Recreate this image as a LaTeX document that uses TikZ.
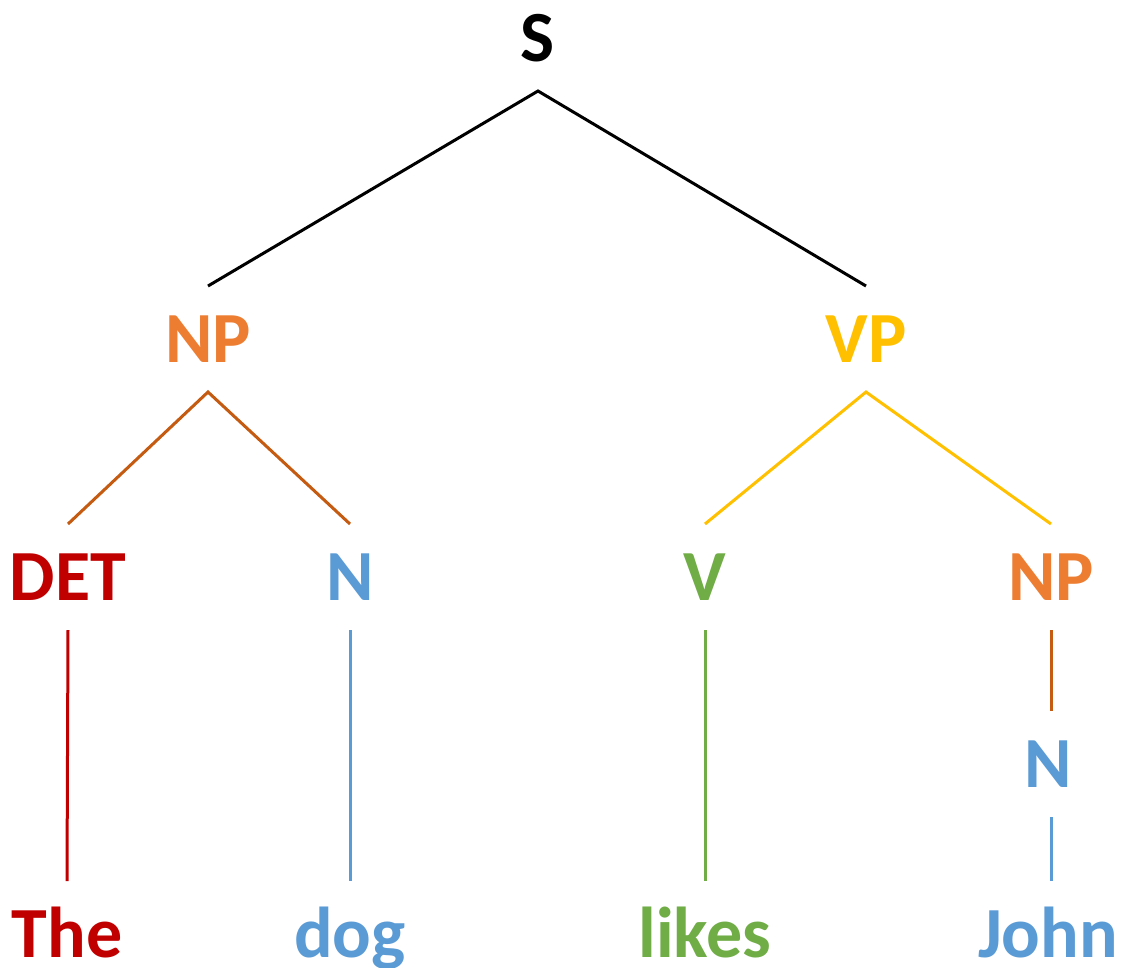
\documentclass[tikz,border=0pt]{standalone}
\usepackage{fontspec}
\setmainfont{Carlito}
\definecolor{cred}{HTML}{C00000}
\definecolor{cblue}{HTML}{5B9BD5}
\definecolor{cgreen}{HTML}{70AD47}
\definecolor{corange}{HTML}{ED7D31}
\definecolor{cgold}{HTML}{FFC000}
\definecolor{cdorange}{HTML}{C55A11}
\begin{document}
\begin{tikzpicture}[x=1pt,y=-1pt,
  lab/.style={font=\fontsize{72}{80}\selectfont\bfseries, text height=46pt, text depth=0pt,
    inner sep=0pt, outer sep=30pt, anchor=base},
  edge/.style={line width=3pt}]
\useasboundingbox (0,0) rectangle (1123,967);
\fill[white] (0,0) rectangle (1123,967);
\node[lab, text=black] (S) at (538,61) {S};
\node[lab, text=corange] (NP1) at (208,362) {NP};
\node[lab, text=cgold] (VP) at (866,362) {VP};
\node[lab, text=cred] (DET) at (68,600) {DET};
\node[lab, text=cblue] (N1) at (350,600) {N};
\node[lab, text=cgreen] (V) at (705,600) {V};
\node[lab, text=corange] (NP2) at (1051,600) {NP};
\node[lab, text=cblue] (N2) at (1048,787) {N};
\node[lab, text=cred] (The) at (67,957) {The};
\node[lab, text=cblue] (dog) at (350,957) {dog};
\node[lab, text=cgreen] (likes) at (705,957) {likes};
\node[lab, text=cblue] (John) at (1048,957) {John};
\draw[edge, black] (NP1.north) -- (S.south) -- (VP.north);
\draw[edge, cdorange] (DET.north) -- (NP1.south) -- (N1.north);
\draw[edge, cgold] (V.north) -- (VP.south) -- (NP2.north);
\draw[edge, cred] (DET.south) -- (The.north);
\draw[edge, cblue] (N1.south) -- (dog.north);
\draw[edge, cgreen] (V.south) -- (likes.north);
\draw[edge, cdorange] (NP2.south) -- (NP2.south |- N2.north);
\draw[edge, cblue] (NP2.south |- N2.south) -- (NP2.south |- John.north);
\end{tikzpicture}
\end{document}
